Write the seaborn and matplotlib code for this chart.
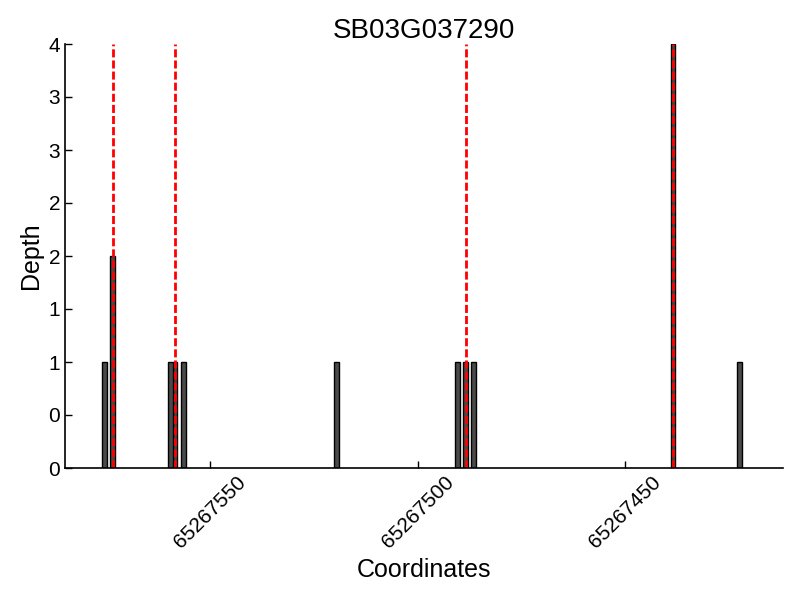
import numpy as np
import pandas as pd
import matplotlib
matplotlib.use("Agg")
import matplotlib.pyplot as plt
import matplotlib.ticker as mticker
import seaborn as sns

# Read depths at each coordinate
positions = [65267575, 65267573, 65267559, 65267558, 65267556, 65267519,
             65267490, 65267488, 65267486, 65267438, 65267422]
depths = [1, 2, 1, 1, 1, 1, 1, 1, 1, 4, 1]

# Coordinates marked with red dashed lines
marked = [65267573, 65267558, 65267488, 65267438]

gene = "SB03G037290"

sns.set_style("ticks")
plt.rcParams['font.family'] = ['Liberation Sans', 'DejaVu Sans']
plt.rcParams['text.color'] = 'black'
plt.rcParams['axes.labelcolor'] = 'black'

df = pd.DataFrame({'Coordinates': np.array(positions) + 0.5, 'Depth': depths})

fig = plt.figure(figsize=(8, 6), dpi=100)
ax = fig.add_axes([65 / 800, 1 - 468 / 600, 718 / 800, 424 / 600])

sns.barplot(data=df, x='Coordinates', y='Depth', native_scale=True, width=1.15,
            color='#4a4a4a', edgecolor='black', linewidth=1, errorbar=None,
            saturation=1, ax=ax)

for m in marked:
    ax.axvline(m + 0.5, color='red', linestyle='--', linewidth=2, dashes=(2.9, 1.1))

ax.set_xlim(65267585, 65267412)
ax.set_ylim(0, 4)
ax.xaxis.set_major_locator(mticker.MultipleLocator(50))
ax.xaxis.set_major_formatter(mticker.FormatStrFormatter('%d'))
ax.yaxis.set_major_locator(mticker.MultipleLocator(0.5))
ax.yaxis.set_major_formatter(mticker.FormatStrFormatter('%d'))
ax.tick_params(direction='in', length=5, width=1, labelsize=15, colors='black')
plt.setp(ax.get_xticklabels(), rotation=45)
for s in ['left', 'bottom']:
    ax.spines[s].set_linewidth(1.2)
    ax.spines[s].set_color('black')
sns.despine(ax=ax)

ax.set_xlabel('Coordinates', fontsize=18)
ax.set_ylabel('Depth', fontsize=18)
ax.set_title(gene, fontsize=20, pad=4)

fig.savefig('out.png', dpi=100)
